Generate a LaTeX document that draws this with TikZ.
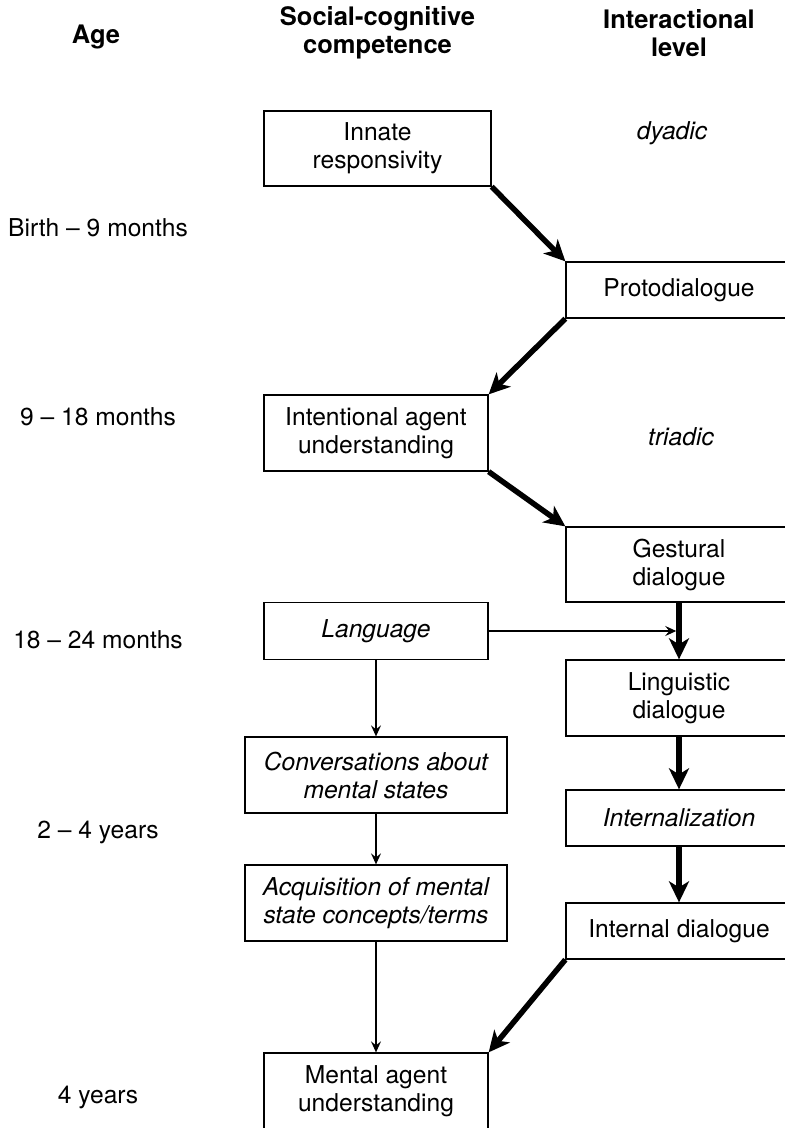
\documentclass[tikz,border=0pt]{standalone}
\usepackage{fontspec}
\setmainfont{TeX Gyre Heros}
\usetikzlibrary{arrows.meta}
\begin{document}
\begin{tikzpicture}[x=1pt,y=-1pt,
  box/.style={draw, line width=1.3pt, inner sep=0pt, align=center, font=\fontsize{24.6pt}{28pt}\selectfont},
  lbl/.style={inner sep=0pt, align=center, font=\fontsize{24.6pt}{28pt}\selectfont},
  hdr/.style={inner sep=0pt, align=center, font=\fontsize{25.5pt}{28.5pt}\selectfont\bfseries},
  bigarrow/.style={line width=5.5pt, -{Stealth[length=21pt,width=20pt,inset=6pt]}},
  smallarrow/.style={line width=1.3pt, -{Stealth[length=11pt,width=10pt,inset=4pt]}}
]
\useasboundingbox (0,0) rectangle (785,1128);
\clip (0,0) rectangle (785,1128);

% headers
\node[hdr] (hage) at (96,37) {Age};
\node[hdr] (hsoc) at (377.5,33) {Social-cognitive\\competence};
\node[hdr] (hint) at (679,33) {Interactional\\level};

% age labels
\node[lbl] (a1) at (98,228) {Birth -- 9 months};
\node[lbl] (a2) at (98,417) {9 -- 18 months};
\node[lbl] (a3) at (98,640) {18 -- 24 months};
\node[lbl] (a4) at (98,832) {2 -- 4 years};
\node[lbl] (a5) at (98,1097) {4 years};

% interaction level labels
\node[lbl] (dy) at (672,133) {\itshape dyadic};
\node[lbl] (tri) at (681,437) {\itshape triadic};

% left column
\node[box, minimum width=227pt, minimum height=75pt] (innate) at (377.5,148.5) {Innate\\responsivity};
\node[box, minimum width=224pt, minimum height=76pt] (intent) at (376,433) {Intentional agent\\understanding};
\node[box, minimum width=224pt, minimum height=57pt] (lang) at (376,631) {\itshape Language};
\node[box, minimum width=262pt, minimum height=76pt] (conv) at (376,775) {\itshape Conversations about\\\itshape mental states};
\node[box, minimum width=262pt, minimum height=76pt] (acq) at (376,903) {\itshape Acquisition of mental\\\itshape state concepts/terms};
\node[box, minimum width=224pt, minimum height=76pt] (mental) at (376,1091) {Mental agent\\understanding};

% right column
\node[box, minimum width=226pt, minimum height=56pt] (proto) at (679,290) {Protodialogue};
\node[box, minimum width=226pt, minimum height=75pt] (gest) at (679,564.5) {Gestural\\dialogue};
\node[box, minimum width=226pt, minimum height=76pt] (ling) at (679,698) {Linguistic\\dialogue};
\node[box, minimum width=226pt, minimum height=56pt] (intern) at (679,818) {\itshape Internalization};
\node[box, minimum width=226pt, minimum height=56pt] (internal) at (679,931) {Internal dialogue};

% thick connectors
\draw[bigarrow] (innate.south east) -- (proto.north west);
\draw[bigarrow] (proto.south west) -- (intent.north east);
\draw[bigarrow] (intent.south east) -- (gest.north west);
\draw[bigarrow] (gest.south) -- (ling.north);
\draw[bigarrow] (ling.south) -- (intern.north);
\draw[bigarrow] (intern.south) -- (internal.north);
\draw[bigarrow] (internal.south west) -- (mental.north east);

% thin connectors
\path (gest.south |- lang.east) ++(-2.75,0) coordinate (j);
\draw[smallarrow] (lang.east) -- (j);
\draw[smallarrow] (lang.south) -- (conv.north);
\draw[smallarrow] (conv.south) -- (acq.north);
\draw[smallarrow] (acq.south) -- (mental.north);
\end{tikzpicture}
\end{document}
